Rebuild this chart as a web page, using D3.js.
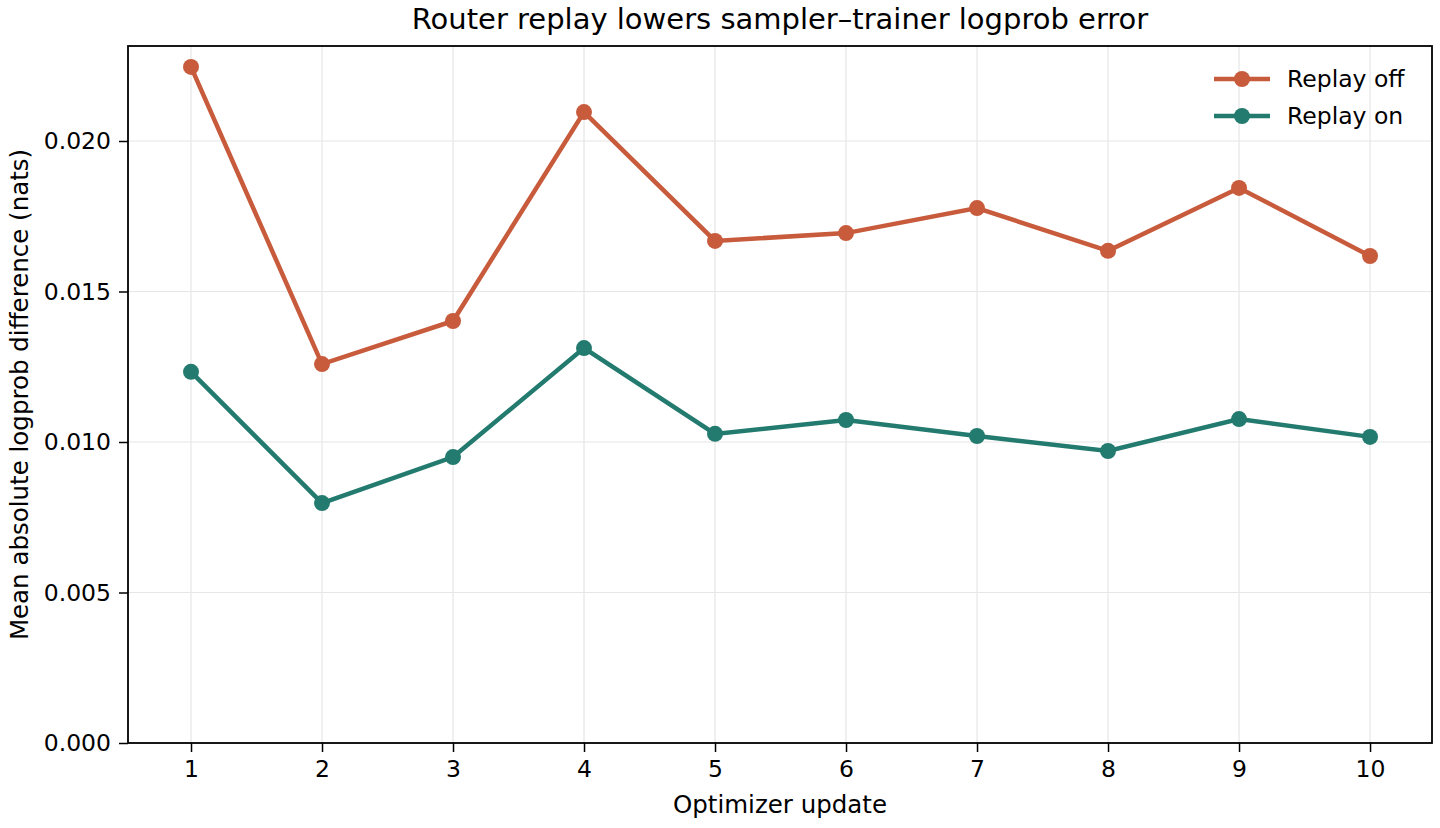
<!DOCTYPE html>
<html><head><meta charset="utf-8">
<script src="https://cdn.jsdelivr.net/npm/d3@7"></script>
<style>body{margin:0;background:#fff}svg,svg text{font-family:"DejaVu Sans",sans-serif !important}</style>
</head><body><svg id="c" width="1440" height="828"></svg>
<script>
const updates=[1,2,3,4,5,6,7,8,9,10];
const replayOff=[0.02246,0.01259,0.01402,0.02096,0.01668,0.01694,0.01777,0.01635,0.01844,0.01618];
const replayOn=[0.01233,0.00797,0.00950,0.01312,0.01027,0.01073,0.01020,0.00970,0.01076,0.01017];
const yTicks=[0,0.005,0.010,0.015,0.020];
const seriesNames=["Replay off","Replay on"];
const colors=["#c75b3c","#237a6e"];
const L=128,R=1432,T=46,B=743;
const svg=d3.select("#c");
const x=d3.scaleLinear().domain([0.519,10.473]).range([L,R]);
const y=d3.scaleLinear().domain([0,0.023156]).range([B,T]);
const g=svg.append("g");
g.selectAll(".gx").data(updates).join("line").attr("x1",d=>x(d)).attr("x2",d=>x(d)).attr("y1",T).attr("y2",B).attr("stroke","#e6e6e6").attr("stroke-width",1.2);
g.selectAll(".gy").data(yTicks).join("line").attr("y1",d=>y(d)).attr("y2",d=>y(d)).attr("x1",L).attr("x2",R).attr("stroke","#e6e6e6").attr("stroke-width",1.2);
const xa=svg.append("g").attr("transform",`translate(0,${B})`).call(d3.axisBottom(x).tickValues(updates).tickFormat(d3.format("d")).tickSize(9).tickPadding(8));
const ya=svg.append("g").attr("transform",`translate(${L},0)`).call(d3.axisLeft(y).tickValues(yTicks).tickFormat(d3.format(".3f")).tickSize(9).tickPadding(8));
[xa,ya].forEach(a=>{a.attr("font-family",null);a.selectAll("text").attr("font-size",23.5).attr("fill","#000");a.select(".domain").remove();a.selectAll("line").attr("stroke","#000").attr("stroke-width",1.5);});
svg.append("rect").attr("x",L).attr("y",T).attr("width",R-L).attr("height",B-T).attr("fill","none").attr("stroke","#000").attr("stroke-width",1.8);
const data=[replayOff,replayOn];
const line=d3.line().x((d,i)=>x(updates[i])).y(d=>y(d));
data.forEach((s,k)=>{
 svg.append("path").datum(s).attr("d",line).attr("fill","none").attr("stroke",colors[k]).attr("stroke-width",4.5);
 svg.selectAll(null).data(s).join("circle").attr("cx",(d,i)=>x(updates[i])).attr("cy",d=>y(d)).attr("r",8).attr("fill",colors[k]);
});
seriesNames.forEach((n,k)=>{
 const yy=79+k*37;
 svg.append("line").attr("x1",1214).attr("x2",1270).attr("y1",yy).attr("y2",yy).attr("stroke",colors[k]).attr("stroke-width",4.5);
 svg.append("circle").attr("cx",1242).attr("cy",yy).attr("r",8).attr("fill",colors[k]);
 svg.append("text").attr("x",1287).attr("y",yy+8).attr("font-size",23.5).text(n);
});
svg.append("text").attr("x",(L+R)/2).attr("y",29).attr("text-anchor","middle").attr("font-size",29).text("Router replay lowers sampler–trainer logprob error");
svg.append("text").attr("x",(L+R)/2).attr("y",813).attr("text-anchor","middle").attr("font-size",24.5).text("Optimizer update");
svg.append("text").attr("transform",`translate(28,${(T+B)/2}) rotate(-90)`).attr("text-anchor","middle").attr("font-size",24.5).text("Mean absolute logprob difference (nats)");
</script></body></html>
